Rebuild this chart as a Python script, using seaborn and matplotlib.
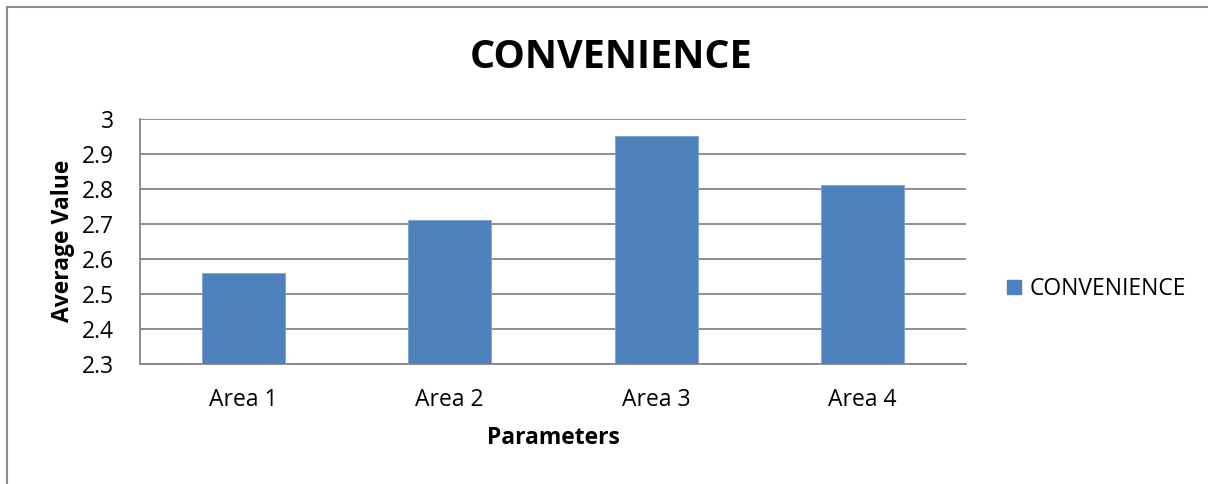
import matplotlib
matplotlib.use("Agg")
import matplotlib.pyplot as plt
import seaborn as sns
import pandas as pd
from matplotlib.lines import Line2D

# Average convenience score per area
areas = ["Area 1", "Area 2", "Area 3", "Area 4"]
values = [2.56, 2.71, 2.95, 2.81]
series_name = "CONVENIENCE"
y_ticks = [2.3, 2.4, 2.5, 2.6, 2.7, 2.8, 2.9, 3.0]
y_tick_labels = ["2.3", "2.4", "2.5", "2.6", "2.7", "2.8", "2.9", "3"]

df = pd.DataFrame({"Parameters": areas, "Average Value": values, "series": series_name})

sns.set_theme(style="white")
plt.rcParams["font.family"] = ["Open Sans", "DejaVu Sans"]
plt.rcParams["text.color"] = "black"
plt.rcParams["axes.labelcolor"] = "black"

BLUE = "#4F81BD"
GRID = "#868686"
FS = 16.5

fig = plt.figure(figsize=(12.08, 4.84), dpi=100)
ax = fig.add_axes([140 / 1208, 1 - 363.5 / 484, (966 - 140) / 1208, (363.5 - 119) / 484])

sns.barplot(data=df, x="Parameters", y="Average Value", hue="series",
            palette=[BLUE], saturation=1, width=0.4, ax=ax, legend=False,
            edgecolor="#7FA3D3", linewidth=0.6, zorder=3)

ax.set_ylim(2.3, 3.0)
ax.set_xlim(-0.5, 3.5)
ax.set_yticks(y_ticks)
ax.set_yticklabels(y_tick_labels, fontsize=FS, color="black")
ax.tick_params(axis="x", labelsize=FS, labelcolor="black", length=0, pad=18)
ax.tick_params(axis="y", length=6, width=1.2, color=GRID, direction="out",
               pad=13, labelcolor="black")

ax.yaxis.grid(True, color=GRID, linewidth=1.3, zorder=0)
ax.set_axisbelow(True)
for side in ["top", "right"]:
    ax.spines[side].set_visible(False)
for side in ["left", "bottom"]:
    ax.spines[side].set_color(GRID)
    ax.spines[side].set_linewidth(1.3)

ax.set_xlabel("Parameters", fontsize=FS, fontweight="bold", labelpad=10)
ax.set_ylabel("Average Value", fontsize=FS, fontweight="bold", labelpad=5)

fig.text(611 / 1208, 1 - 57 / 484, "CONVENIENCE", fontsize=28.5, fontweight="bold",
         ha="center", va="center")

handle = Line2D([], [], marker="s", linestyle="none", markersize=10.5,
                markerfacecolor=BLUE, markeredgecolor=BLUE)
fig.legend([handle], [series_name], loc="center left",
           bbox_to_anchor=(1003 / 1208, 1 - 289 / 484), frameon=False,
           fontsize=FS, handletextpad=0.15, handlelength=1.0, borderpad=0,
           borderaxespad=0)

# Outer chart frame (left and top edges)
fig.add_artist(Line2D([7.5 / 1208, 7.5 / 1208], [0, 1 - 6.5 / 484],
                      transform=fig.transFigure, color="#8C8C8C", linewidth=1.5))
fig.add_artist(Line2D([7.5 / 1208, 1], [1 - 6.5 / 484, 1 - 6.5 / 484],
                      transform=fig.transFigure, color="#8C8C8C", linewidth=1.5))

fig.savefig("out.png", dpi=100, facecolor="white")
